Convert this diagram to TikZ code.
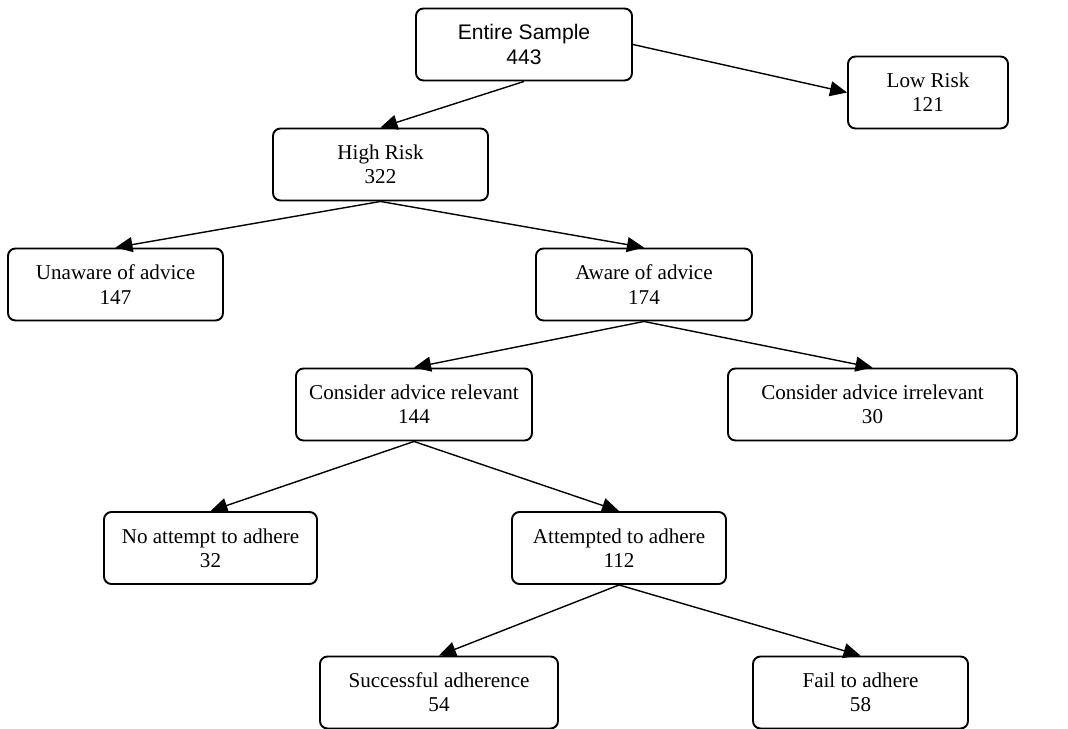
\documentclass[tikz,border=0pt]{standalone}
\usepackage{fontspec}
\setmainfont{Liberation Serif}
\newfontfamily\arialfont{Liberation Sans}
\usetikzlibrary{arrows.meta}

\begin{document}
\begin{tikzpicture}[
		treebox/.style={draw, line width=1.1pt, rounded corners=0.15cm, align=center,
			minimum height=1.44cm, inner sep=1pt, font=\fontsize{12}{13.8}\selectfont},
		treearrow/.style={line width=0.8pt, -{Triangle[length=3.4mm,width=3mm]}}
	]
	%%%%% START %%%%%
	
	\useasboundingbox (0, 0) rectangle (21.36, -14.58);
	
	\node[treebox, minimum width=4.32cm, font=\arialfont\fontsize{12}{13.8}\selectfont] (entire) at (10.48, -0.89) {Entire Sample\\443};
	\node[treebox, minimum width=3.20cm] (low) at (18.56, -1.85) {Low Risk\\121};
	\node[treebox, minimum width=4.30cm] (high) at (7.61, -3.29) {High Risk\\322};
	
	\node[treebox, minimum width=4.30cm] (unaware) at (2.31, -5.69) {Unaware of advice\\147};
	\node[treebox, minimum width=4.32cm] (aware) at (12.88, -5.69) {Aware of advice\\174};
	
	\node[treebox, minimum width=4.72cm] (relevant) at (8.28, -8.09) {Consider advice relevant\\144};
	\node[treebox, minimum width=5.78cm] (irrelevant) at (17.45, -8.09) {Consider advice irrelevant\\30};
	
	\node[treebox, minimum width=4.26cm] (noattempt) at (4.21, -10.96) {No attempt to adhere\\32};
	\node[treebox, minimum width=4.28cm] (attempted) at (12.38, -10.96) {Attempted to adhere\\112};
	
	\node[treebox, minimum width=4.76cm] (success) at (8.78, -13.85) {Successful adherence\\54};
	\node[treebox, minimum width=4.30cm] (fail) at (17.21, -13.85) {Fail to adhere\\58};
	
	\draw[treearrow] (entire.east) -- (low.west);
	\draw[treearrow] (entire.south) -- (high.north);
	\draw[treearrow] (high.south) -- (unaware.north);
	\draw[treearrow] (high.south) -- (aware.north);
	\draw[treearrow] (aware.south) -- (relevant.north);
	\draw[treearrow] (aware.south) -- (irrelevant.north);
	\draw[treearrow] (relevant.south) -- (noattempt.north);
	\draw[treearrow] (relevant.south) -- (attempted.north);
	\draw[treearrow] (attempted.south) -- (success.north);
	\draw[treearrow] (attempted.south) -- (fail.north);
	
	%%%%% END %%%%%
\end{tikzpicture}
\end{document}
